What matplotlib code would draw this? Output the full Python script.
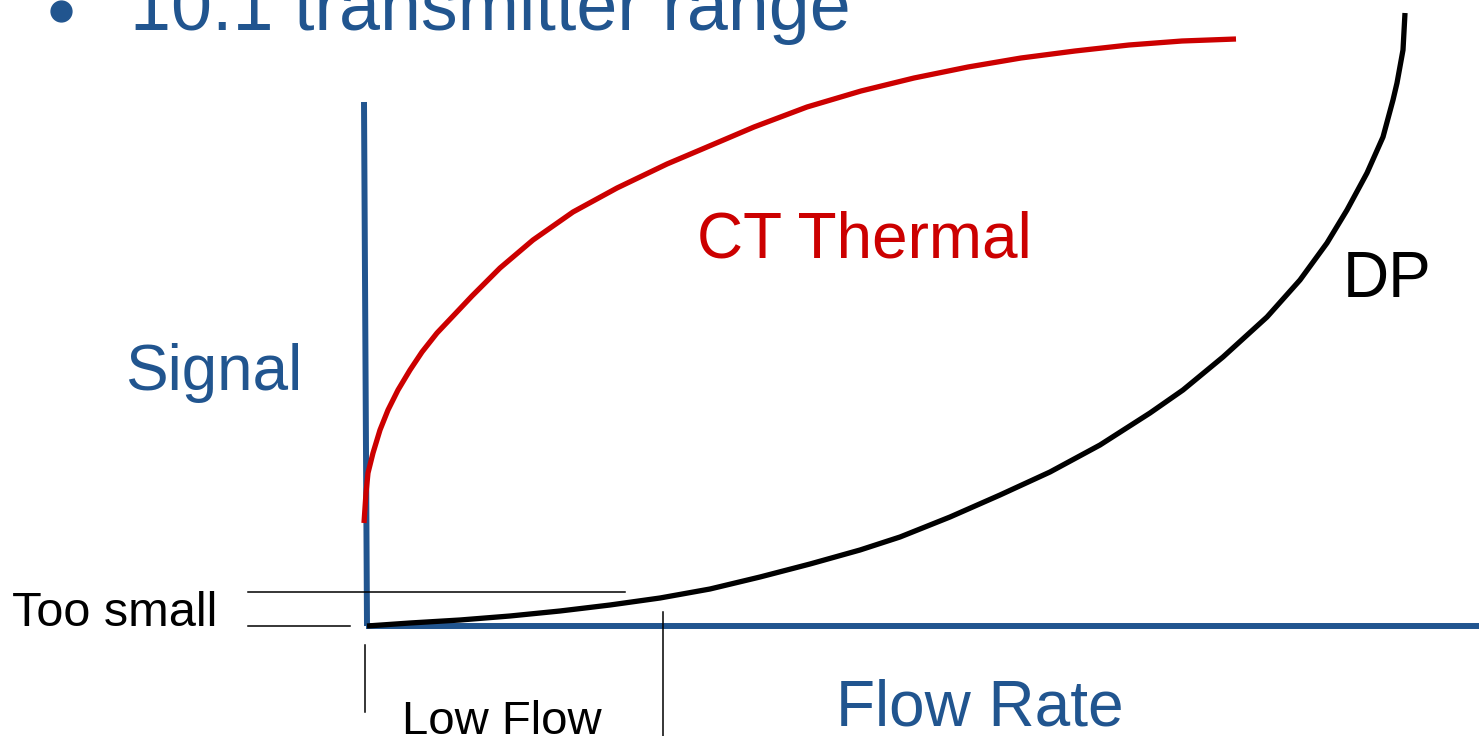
import numpy as np
import matplotlib
matplotlib.use("Agg")
import matplotlib.pyplot as plt

plt.rcParams['font.family'] = ['Liberation Sans', 'DejaVu Sans']

BLUE = "#21558F"
RED = "#CC0000"

# diagram coordinates: flow to the right of the signal axis, signal up from the flow axis
# (in pixels relative to the origin)
thermal_flow = [-2, 0, 2, 7, 14, 22, 32, 44, 56, 71, 89, 106, 121, 134, 167, 207, 251,
                301, 334, 388, 441, 495, 548, 602, 655, 709, 763, 816, 870]
thermal_signal = [103, 133, 153, 173, 196, 216, 236, 256, 274, 293, 312, 330, 345, 358,
                  386, 414, 438, 462, 476, 499, 519, 535, 548, 559, 568, 575, 581, 585, 587]

dp_flow = [1, 44, 94, 144, 194, 244, 294, 344, 394, 444, 494, 534, 584, 634, 684, 734,
           784, 817, 857, 901, 934, 961, 981, 1001, 1017, 1027, 1031, 1037, 1039]
dp_signal = [0, 3, 6, 10, 15, 21, 28, 37, 49, 62, 76, 89, 109, 131, 154, 181, 213, 236,
             269, 309, 346, 383, 416, 453, 489, 526, 543, 576, 613]

signal_axis_flow = [-2, 1]
signal_axis_signal = [524, 0]
flow_axis_flow = [0, 1113]
flow_axis_signal = [0, 0]

too_small_top = 34
too_small_x = [-118, 259]
too_small_low_x = [-118, -16]
low_flow_edges = [-1, 297]

fig = plt.figure(figsize=(14.79, 7.36), dpi=100)
ax = fig.add_axes([0, 0, 1, 1])
ax.set_xlim(-366, 1113)
ax.set_ylim(-110, 626)
ax.axis("off")

# axes of the sketch
ax.plot(signal_axis_flow, signal_axis_signal, color=BLUE, lw=4.3, solid_capstyle="butt")
ax.plot(flow_axis_flow, flow_axis_signal, color=BLUE, lw=4.3, solid_capstyle="butt")

# curves
ax.plot(thermal_flow, thermal_signal, color=RED, lw=3.8,
        solid_capstyle="butt", solid_joinstyle="round")
ax.plot(dp_flow, dp_signal, color="black", lw=3.8,
        solid_capstyle="butt", solid_joinstyle="round")

# "too small" bracket lines
ax.plot(too_small_x, [too_small_top, too_small_top], color="black", lw=1.1)
ax.plot(too_small_low_x, [0, 0], color="black", lw=1.1)

# low flow markers
ax.plot([low_flow_edges[0]] * 2, [-19, -86], color="black", lw=1.1)
ax.plot([low_flow_edges[1]] * 2, [14, -112], color="black", lw=1.1)

# labels
ax.text(-236, 596, "10.1 transmitter range", color=BLUE, fontsize=53, va="baseline")
ax.plot([-305], [615], "o", color=BLUE, ms=15)
ax.text(-241, 236, "Signal", color=BLUE, fontsize=46, va="baseline")
ax.text(331, 369, "CT Thermal", color=RED, fontsize=46, va="baseline")
ax.text(977, 329, "DP", color="black", fontsize=46, va="baseline")
ax.text(470, -99, "Flow Rate", color=BLUE, fontsize=46, va="baseline")
ax.text(-354, 0, "Too small", color="black", fontsize=35, va="baseline")
ax.text(36, -108, "Low Flow", color="black", fontsize=34, va="baseline")

fig.savefig("out.png", dpi=100)
